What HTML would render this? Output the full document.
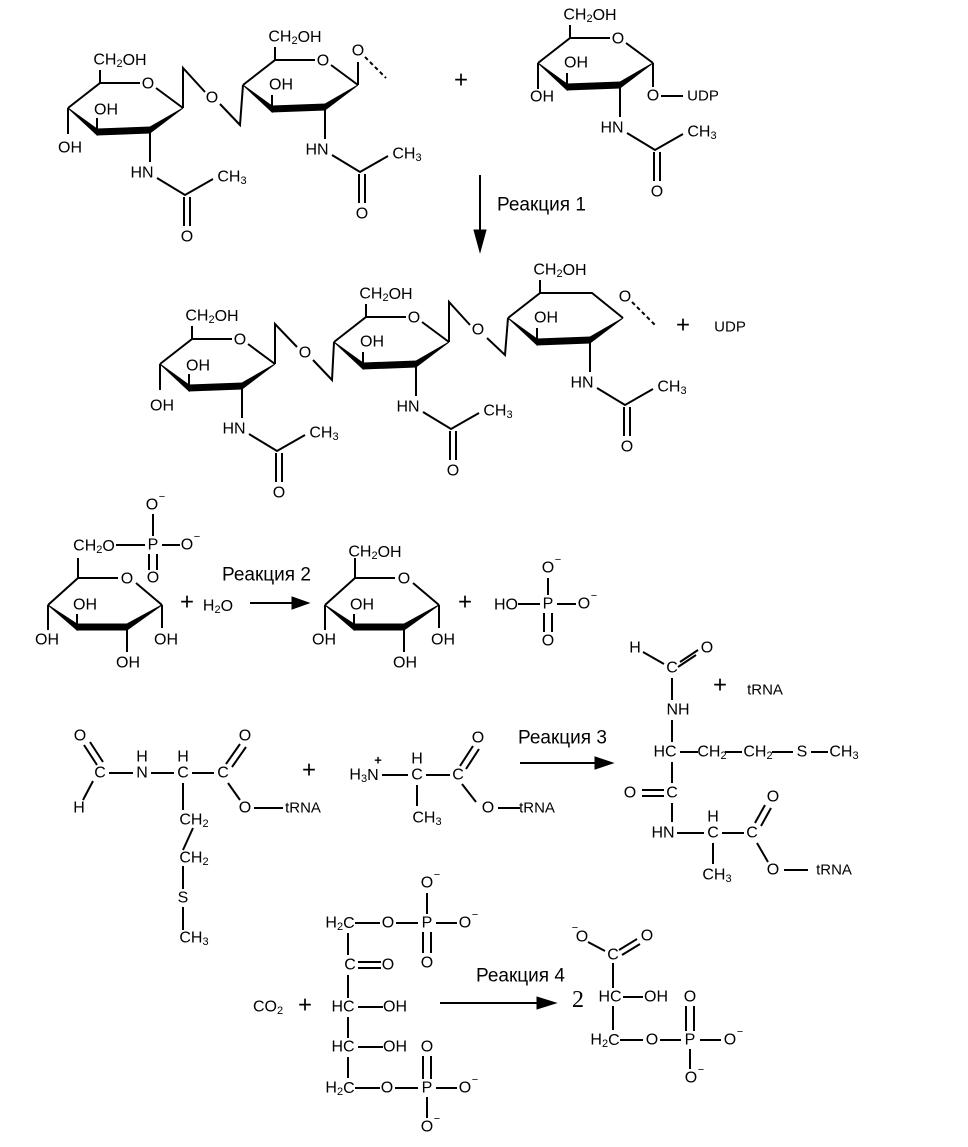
<!DOCTYPE html>
<html><head><meta charset="utf-8"><style>
html,body{margin:0;padding:0;background:#fff}
svg{display:block}
text{font-family:"Liberation Sans",Arial,sans-serif;font-size:16px;fill:#000;dominant-baseline:central;text-anchor:middle}
.s{font-size:11px}
path,line{stroke:#000;stroke-width:2;fill:none}
polygon{fill:#000;stroke:#000;stroke-width:1}
.r{font-size:19px;text-anchor:start}
.dash{stroke-dasharray:4 3}
</style></head><body>
<svg width="968" height="1147" viewBox="0 0 968 1147" xmlns="http://www.w3.org/2000/svg">

<g>
<path d="M68,108 L100,83 L100,70 M100,83 L140,83 M156,88 L183,108 M68,108 L68,134 M97,132 L97,118 M150,130 L150,162 M157,178 L185,195 L213,179 M184,197 L184,226 M190,197 L190,226"/>
<polygon points="68,108 97,129 97,135"/>
<polygon points="97,129 150,127 150,133 97,135"/>
<polygon points="183,108 150,127 150,133"/>
<text x="120" y="60">CH<tspan class="s" dy="4">2</tspan><tspan dy="-4">OH</tspan></text>
<text x="148" y="84">O</text>
<text x="106" y="110">OH</text>
<text x="70" y="148">OH</text>
<text x="142" y="173">HN</text>
<text x="232" y="177">CH<tspan class="s" dy="4">3</tspan></text>
<text x="187" y="237">O</text>
</g>
<path d="M183,108 L183,68 L205,92 M220,104 L240,125 L243,85"/>
<text x="212" y="98">O</text>

<g transform="translate(175,-23)">
<path d="M68,108 L100,83 L100,70 M100,83 L140,83 M156,88 L183,108 M97,132 L97,118 M150,130 L150,162 M157,178 L185,195 L213,179 M184,197 L184,226 M190,197 L190,226 M183,108 L183,85"/>
<polygon points="68,108 97,129 97,135"/>
<polygon points="97,129 150,127 150,133 97,135"/>
<polygon points="183,108 150,127 150,133"/>
<text x="120" y="60">CH<tspan class="s" dy="4">2</tspan><tspan dy="-4">OH</tspan></text>
<text x="148" y="84">O</text>
<text x="106" y="108">OH</text>
<text x="142" y="173">HN</text>
<text x="232" y="177">CH<tspan class="s" dy="4">3</tspan></text>
<text x="187" y="237">O</text>
<text x="183" y="74">O</text>
<path class="dash" d="M190,80 L211,101"/>
</g>

<text x="461" y="80" style="font-size:24px">+</text>

<g transform="translate(470,-45)">
<path d="M68,108 L100,83 L100,70 M100,83 L140,83 M156,88 L183,108 M68,108 L68,134 M97,132 L97,118 M150,130 L150,162 M157,178 L185,195 L213,179 M184,197 L184,226 M190,197 L190,226 M183,108 L183,132 M191,141 L213,141"/>
<polygon points="68,108 97,129 97,135"/>
<polygon points="97,129 150,127 150,133 97,135"/>
<polygon points="183,108 150,127 150,133"/>
<text x="120" y="60">CH<tspan class="s" dy="4">2</tspan><tspan dy="-4">OH</tspan></text>
<text x="148" y="84">O</text>
<text x="106" y="108">OH</text>
<text x="72" y="142">OH</text>
<text x="142" y="173">HN</text>
<text x="232" y="177">CH<tspan class="s" dy="4">3</tspan></text>
<text x="187" y="237">O</text>
<text x="183" y="141">O</text>
<text x="233" y="141" style="font-size:15px">UDP</text>
</g>

<line x1="480" y1="175" x2="480" y2="235"/>
<polygon points="474,230 486,230 480,252"/>
<text class="r" x="497" y="205">Реакция 1</text>

<g transform="translate(92,256)">
<path d="M68,108 L100,83 L100,70 M100,83 L140,83 M156,88 L183,108 M68,108 L68,134 M97,132 L97,118 M150,130 L150,162 M157,178 L185,195 L213,179 M184,197 L184,226 M190,197 L190,226"/>
<polygon points="68,108 97,129 97,135"/>
<polygon points="97,129 150,127 150,133 97,135"/>
<polygon points="183,108 150,127 150,133"/>
<text x="120" y="60">CH<tspan class="s" dy="4">2</tspan><tspan dy="-4">OH</tspan></text>
<text x="148" y="84">O</text>
<text x="106" y="110">OH</text>
<text x="70" y="150">OH</text>
<text x="142" y="173">HN</text>
<text x="232" y="177">CH<tspan class="s" dy="4">3</tspan></text>
<text x="187" y="237">O</text>
</g>
<path d="M275,364 L275,324 L297,347 M313,360 L332,380 L334,342"/>
<text x="305" y="353">O</text>

<g transform="translate(266,234)">
<path d="M68,108 L100,83 L100,70 M100,83 L140,83 M156,88 L183,108 M97,132 L97,118 M150,130 L150,162 M157,178 L185,195 L213,179 M184,197 L184,226 M190,197 L190,226"/>
<polygon points="68,108 97,129 97,135"/>
<polygon points="97,129 150,127 150,133 97,135"/>
<polygon points="183,108 150,127 150,133"/>
<text x="120" y="60">CH<tspan class="s" dy="4">2</tspan><tspan dy="-4">OH</tspan></text>
<text x="148" y="84">O</text>
<text x="106" y="108">OH</text>
<text x="142" y="173">HN</text>
<text x="232" y="177">CH<tspan class="s" dy="4">3</tspan></text>
<text x="187" y="237">O</text>
</g>
<path d="M449,342 L449,302 L470,325 M487,338 L505,355 L508,318"/>
<text x="478" y="330">O</text>

<g transform="translate(440,210)">
<path d="M68,108 L100,83 L100,70 M100,83 L152,83 L183,108 M97,132 L97,118 M150,130 L150,162 M157,178 L185,195 L213,179 M184,197 L184,226 M190,197 L190,226"/>
<polygon points="68,108 97,129 97,135"/>
<polygon points="97,129 150,127 150,133 97,135"/>
<polygon points="183,108 150,127 150,133"/>
<text x="120" y="60">CH<tspan class="s" dy="4">2</tspan><tspan dy="-4">OH</tspan></text>
<text x="106" y="108">OH</text>
<text x="142" y="173">HN</text>
<text x="232" y="177">CH<tspan class="s" dy="4">3</tspan></text>
<text x="187" y="237">O</text>
<text x="185" y="87">O</text>
<path class="dash" d="M192,92 L215,115"/>
</g>
<text x="683" y="325" style="font-size:24px">+</text>
<text x="730" y="327" style="font-size:15px">UDP</text>

<g>
<path d="M78,578 L78,558 M78,578 L118,578 M136,583 L162,605 M48,605 L78,578 M48,605 L48,630 M77,627 L77,614 M127,627 L127,652 M162,605 L162,628"/>
<polygon points="48,605 77,624 77,630"/>
<polygon points="77,624 127,624 127,630 77,630"/>
<polygon points="162,605 127,624 127,630"/>
<text x="94" y="546">CH<tspan class="s" dy="4">2</tspan><tspan dy="-4">O</tspan></text>
<text x="127" y="579">O</text>
<text x="85" y="605">OH</text>
<text x="47" y="640">OH</text>
<text x="128" y="663">OH</text>
<text x="166" y="640">OH</text>
<path d="M116,545 L145,545 M153,536 L153,514 M162,545 L180,545 M149,554 L149,570 M157,554 L157,570"/>
<text x="153" y="545">P</text>
<text x="152" y="505">O</text><text x="162" y="497" class="s">−</text>
<text x="187" y="545">O</text><text x="197" y="537" class="s">−</text>
<text x="153" y="578">O</text>
</g>
<text x="187" y="602" style="font-size:24px">+</text>
<text x="218" y="606">H<tspan class="s" dy="4">2</tspan><tspan dy="-4">O</tspan></text>
<line x1="250" y1="603" x2="295" y2="603"/>
<polygon points="292,597 292,609 309,603"/>
<text class="r" x="222" y="575">Реакция 2</text>

<g transform="translate(277,0)">
<path d="M78,578 L78,558 M78,578 L118,578 M136,583 L162,605 M48,605 L78,578 M48,605 L48,630 M77,627 L77,614 M127,627 L127,652 M162,605 L162,628"/>
<polygon points="48,605 77,624 77,630"/>
<polygon points="77,624 127,624 127,630 77,630"/>
<polygon points="162,605 127,624 127,630"/>
<text x="98" y="552">CH<tspan class="s" dy="4">2</tspan><tspan dy="-4">OH</tspan></text>
<text x="127" y="579">O</text>
<text x="85" y="605">OH</text>
<text x="47" y="640">OH</text>
<text x="128" y="663">OH</text>
<text x="166" y="640">OH</text>
</g>
<text x="465" y="602" style="font-size:24px">+</text>
<text x="506" y="605">HO</text>
<path d="M518,604 L540,604 M548,595 L548,578 M557,604 L576,604 M544,613 L544,632 M552,613 L552,632"/>
<text x="548" y="604">P</text>
<text x="548" y="568">O</text><text x="558" y="560" class="s">−</text>
<text x="584" y="604">O</text><text x="594" y="596" class="s">−</text>
<text x="548" y="641">O</text>

<path d="M84,745 L97,765 M90,742 L103,762 M93,781 L83,800 M109,773 L133,773 M151,773 L174,773 M192,773 L214,773 M183,783 L183,810 M193,828 L183,850 M183,866 L183,889 M183,907 L183,930 M226,764 L240,744 M232,767 L246,747 M228,783 L240,800 M254,808 L283,808"/>
<text x="80" y="736">O</text>
<text x="100" y="773">C</text>
<text x="79" y="808">H</text>
<text x="142" y="773">N</text><text x="142" y="757">H</text>
<text x="183" y="773">C</text><text x="183" y="757">H</text>
<text x="223" y="773">C</text>
<text x="245" y="736">O</text>
<text x="245" y="808">O</text>
<text x="303" y="808" style="font-size:15px">tRNA</text>
<text x="194" y="820">CH<tspan class="s" dy="4">2</tspan></text>
<text x="194" y="858">CH<tspan class="s" dy="4">2</tspan></text>
<text x="183" y="898">S</text>
<text x="194" y="938">CH<tspan class="s" dy="4">3</tspan></text>

<text x="309" y="770" style="font-size:24px">+</text>
<text x="364" y="775">H<tspan class="s" dy="4">3</tspan><tspan dy="-4">N</tspan></text>
<text x="378" y="760" style="font-size:13px;font-weight:bold">+</text>
<path d="M382,775 L408,775 M417,785 L417,806 M426,775 L450,775 M460,766 L473,746 M466,769 L479,749 M462,784 L476,802 M498,808 L520,808"/>
<text x="417" y="775">C</text><text x="417" y="759">H</text>
<text x="427" y="818">CH<tspan class="s" dy="4">3</tspan></text>
<text x="458" y="775">C</text>
<text x="478" y="738">O</text>
<text x="488" y="808">O</text>
<text x="537" y="808" style="font-size:15px">tRNA</text>

<text class="r" x="518" y="738">Реакция 3</text>
<line x1="520" y1="763" x2="598" y2="763"/>
<polygon points="595,757 595,769 613,763"/>

<path d="M643,652 L664,664 M680,662 L698,650 M678,667 L696,655 M672,678 L672,700 M672,720 L672,742 M680,752 L698,752 M725,752 L742,752 M772,752 L793,752 M811,752 L828,752 M672,762 L672,783 M642,790 L664,790 M642,796 L664,796 M672,803 L672,822 M677,833 L704,833 M713,843 L713,864 M722,833 L744,833 M755,823 L765,805 M761,826 L771,808 M757,843 L768,862 M784,870 L808,870"/>
<text x="635" y="648">H</text>
<text x="672" y="668">C</text>
<text x="707" y="648">O</text>
<text x="720" y="685" style="font-size:24px">+</text>
<text x="765" y="690" style="font-size:15px">tRNA</text>
<text x="678" y="710">NH</text>
<text x="665" y="752">HC</text>
<text x="712" y="752">CH<tspan class="s" dy="4">2</tspan></text>
<text x="758" y="752">CH<tspan class="s" dy="4">2</tspan></text>
<text x="802" y="752">S</text>
<text x="844" y="752">CH<tspan class="s" dy="4">3</tspan></text>
<text x="630" y="793">O</text>
<text x="672" y="793">C</text>
<text x="663" y="833">HN</text>
<text x="713" y="833">C</text><text x="713" y="817">H</text>
<text x="717" y="875">CH<tspan class="s" dy="4">3</tspan></text>
<text x="752" y="833">C</text>
<text x="773" y="797">O</text>
<text x="773" y="870">O</text>
<text x="834" y="870" style="font-size:15px">tRNA</text>

<path d="M355,923 L380,923 M396,923 L418,923 M436,923 L457,923 M427,914 L427,893 M423,932 L423,953 M431,932 L431,953 M348,933 L348,955 M358,962 L381,962 M358,968 L381,968 M348,975 L348,998 M358,1007 L383,1007 M348,1017 L348,1038 M358,1047 L383,1047 M348,1057 L348,1078 M355,1088 L380,1088 M395,1088 L418,1088 M436,1088 L457,1088 M427,1097 L427,1118 M423,1056 L423,1079 M431,1056 L431,1079"/>
<text x="427" y="883">O</text><text x="437" y="875" class="s">−</text>
<text x="340" y="923">H<tspan class="s" dy="4">2</tspan><tspan dy="-4">C</tspan></text>
<text x="388" y="923">O</text>
<text x="427" y="923">P</text>
<text x="465" y="923">O</text><text x="475" y="915" class="s">−</text>
<text x="427" y="963">O</text>
<text x="350" y="965">C</text>
<text x="388" y="965">O</text>
<text x="343" y="1007">HC</text>
<text x="395" y="1007">OH</text>
<text x="343" y="1047">HC</text>
<text x="395" y="1047">OH</text>
<text x="427" y="1047">O</text>
<text x="340" y="1088">H<tspan class="s" dy="4">2</tspan><tspan dy="-4">C</tspan></text>
<text x="387" y="1088">O</text>
<text x="427" y="1088">P</text>
<text x="465" y="1088">O</text><text x="475" y="1080" class="s">−</text>
<text x="427" y="1127">O</text><text x="437" y="1119" class="s">−</text>

<text x="268" y="1007">CO<tspan class="s" dy="4">2</tspan></text>
<text x="305" y="1005" style="font-size:24px">+</text>
<text class="r" x="476" y="976">Реакция 4</text>
<line x1="440" y1="1003" x2="540" y2="1003"/>
<polygon points="537,997 537,1009 556,1003"/>
<text x="578" y="1000" style="font-family:'Liberation Serif',serif;font-size:24px">2</text>

<path d="M588,942 L605,951 M619,950 L637,939 M622,955 L640,944 M613,963 L613,988 M623,997 L643,997 M613,1006 L613,1030 M620,1040 L643,1040 M660,1040 L681,1040 M700,1040 L721,1040 M686,1006 L686,1031 M694,1006 L694,1031 M690,1049 L690,1069"/>
<text x="582" y="937">O</text><text x="575" y="928" class="s">−</text>
<text x="613" y="955">C</text>
<text x="647" y="936">O</text>
<text x="610" y="997">HC</text>
<text x="656" y="997">OH</text>
<text x="605" y="1040">H<tspan class="s" dy="4">2</tspan><tspan dy="-4">C</tspan></text>
<text x="652" y="1040">O</text>
<text x="690" y="1040">P</text>
<text x="690" y="997">O</text>
<text x="730" y="1040">O</text><text x="740" y="1032" class="s">−</text>
<text x="691" y="1078">O</text><text x="701" y="1070" class="s">−</text>
</svg>
</body></html>
